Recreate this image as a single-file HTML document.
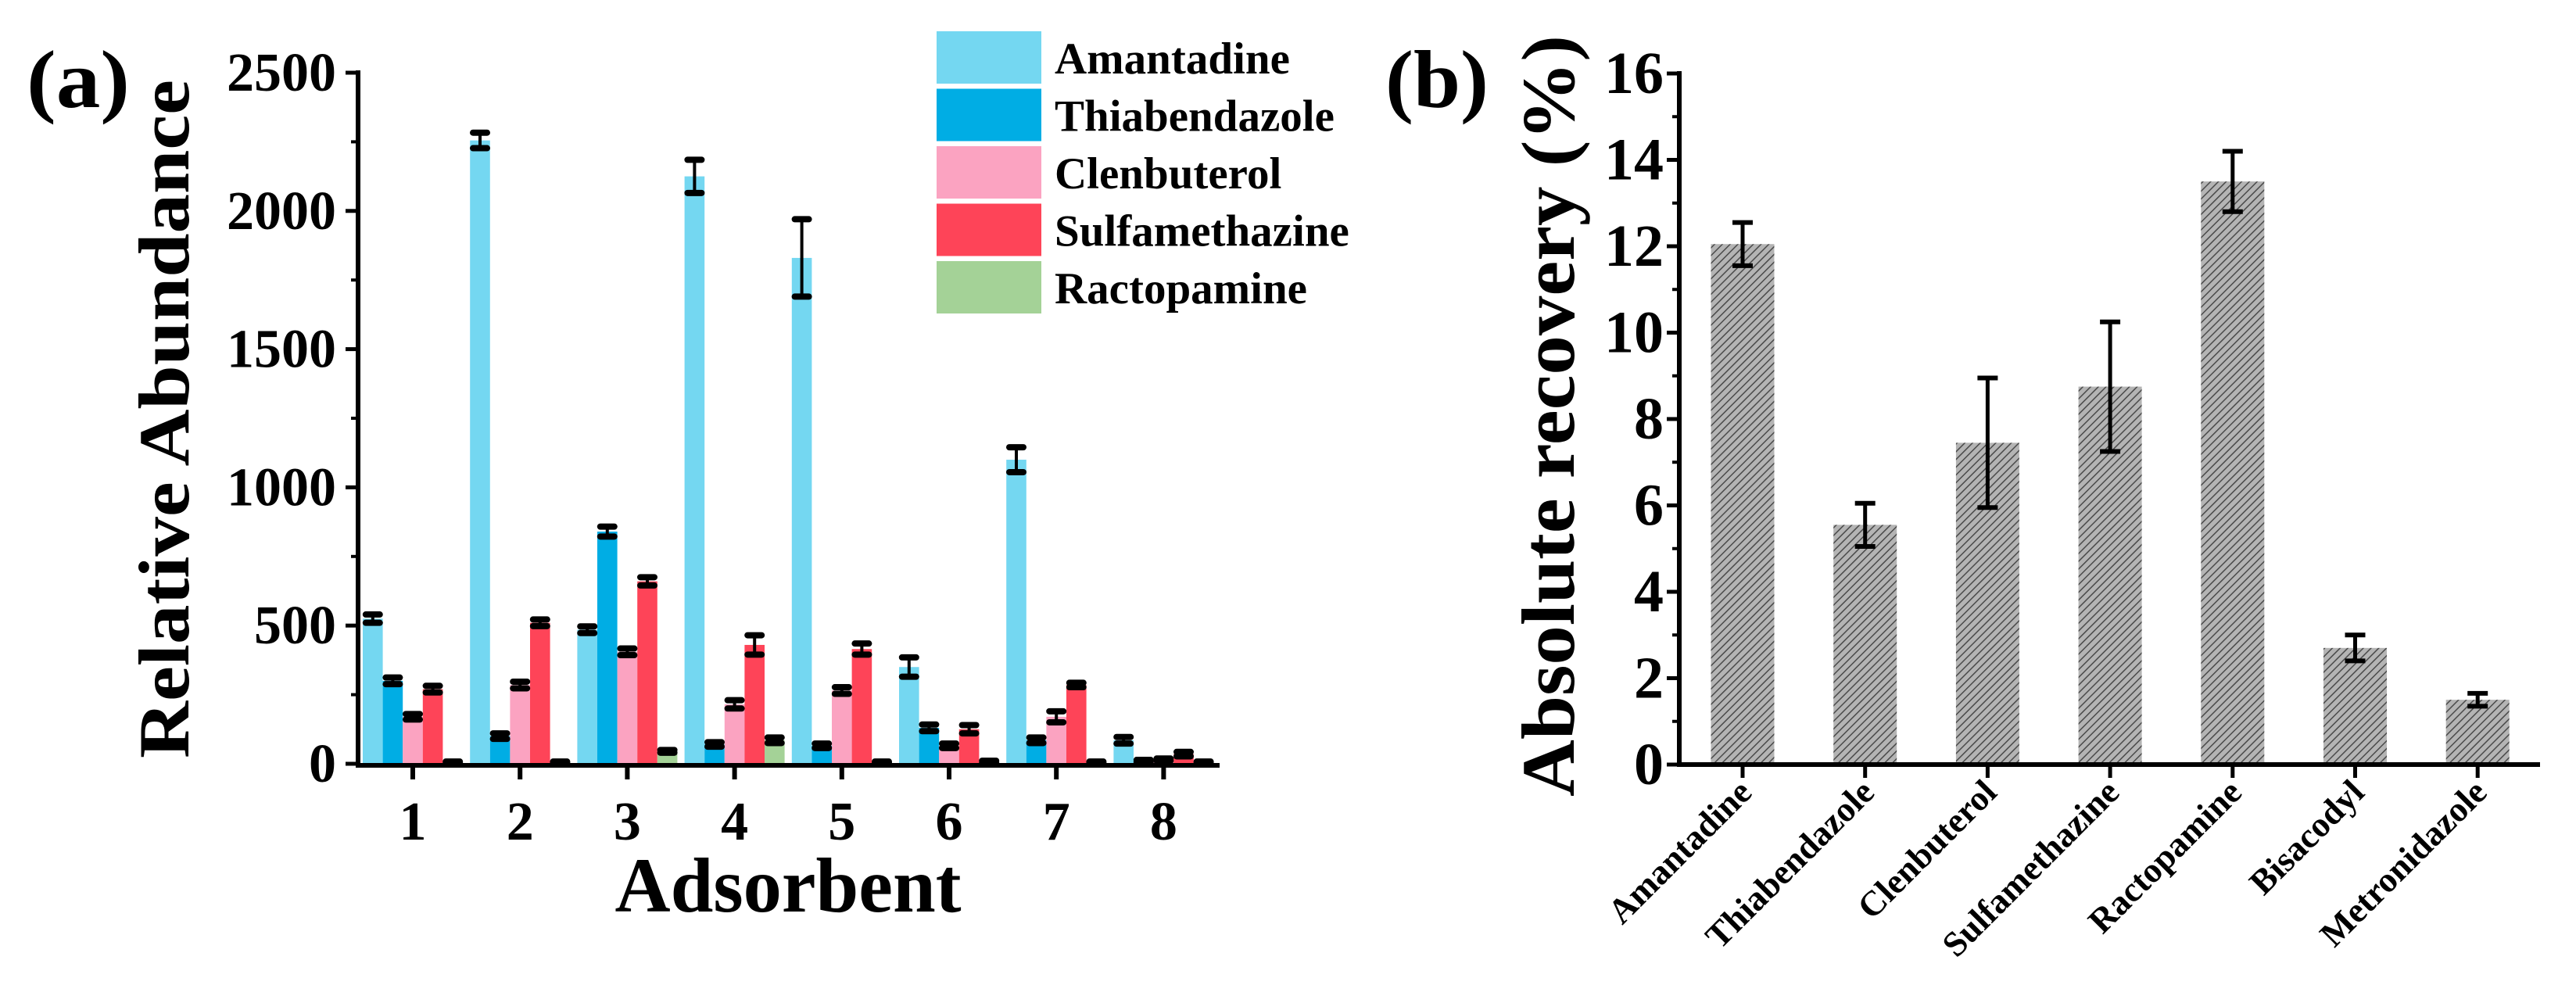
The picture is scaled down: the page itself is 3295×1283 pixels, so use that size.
<!DOCTYPE html>
<html><head><meta charset="utf-8"><style>
html,body{margin:0;padding:0;background:#fff;}
svg{display:block;}
svg text{font-family:"Liberation Serif",serif;font-weight:bold;}
</style></head><body>
<svg id="fig" width="3295" height="1283" viewBox="0 0 3295 1283" xmlns="http://www.w3.org/2000/svg" font-family="Liberation Serif, serif" font-weight="bold">
<defs>
<pattern id="hatch" patternUnits="userSpaceOnUse" width="7" height="7" patternTransform="rotate(45)">
<rect width="7" height="7" fill="#b4b4b4"/>
<line x1="0" y1="0" x2="0" y2="7" stroke="#4a4a4a" stroke-width="3"/>
</pattern>
</defs>
<g id="pa"></g>
<g id="pb"></g>
</svg>
<script>
// Panel (a) data
const aCategories = ['1','2','3','4','5','6','7','8'];
const aSeriesNames = ['Amantadine','Thiabendazole','Clenbuterol','Sulfamethazine','Ractopamine'];
const aColors = ['#74d7f1','#00ade4','#fba3c1','#fe4458','#a4d297'];
const aAmantadine = [525,2255,485,2125,1830,350,1100,85];
const aThiabendazole = [300,100,840,70,65,130,85,10];
const aClenbuterol = [170,285,405,215,265,65,170,15];
const aSulfamethazine = [270,510,660,430,415,125,285,35];
const aRactopamine = [5,5,45,85,5,8,5,5];
const aErrAmantadine = [15,28,12,60,140,35,45,12];
const aErrThiabendazole = [12,10,18,8,8,12,10,4];
const aErrClenbuterol = [10,12,12,15,12,8,20,4];
const aErrSulfamethazine = [12,12,15,35,20,15,8,8];
const aErrRactopamine = [3,3,5,10,3,3,3,3];
const aYTicks = [0,500,1000,1500,2000,2500];
// Panel (b) data
const bCategories = ['Amantadine','Thiabendazole','Clenbuterol','Sulfamethazine','Ractopamine','Bisacodyl','Metronidazole'];
const bValues = [12.05,5.55,7.45,8.75,13.5,2.7,1.5];
const bErrors = [0.5,0.5,1.5,1.5,0.7,0.3,0.15];
const bYTicks = [0,2,4,6,8,10,12,14,16];

const NS='http://www.w3.org/2000/svg';
function mk(parent,tag,attrs,text){const e=document.createElementNS(NS,tag);for(const k in attrs)e.setAttribute(k,attrs[k]);if(text!==undefined){e.textContent=text;e.setAttribute('font-family','Liberation Serif, serif');e.setAttribute('font-weight','bold');}parent.appendChild(e);return e;}

// ---------- Panel A ----------
const pa=document.getElementById('pa');
const aX0=458,aX1=1560,aY0=977,aYTop=93,aMax=2500;
const ay=v=>aY0-(v/aMax)*(aY0-aYTop);
const aGroupC=i=>528+i*137.2;
const aBarW=25.6;
const aSeries=[aAmantadine,aThiabendazole,aClenbuterol,aSulfamethazine,aRactopamine];
const aErrs=[aErrAmantadine,aErrThiabendazole,aErrClenbuterol,aErrSulfamethazine,aErrRactopamine];
aCategories.forEach((c,i)=>{
  aSeries.forEach((s,j)=>{
    const x=aGroupC(i)+(j-2.5)*aBarW;
    const r=mk(pa,'rect',{x:x,y:ay(s[i]),width:aBarW,height:aY0-ay(s[i]),fill:aColors[j]});
    
    
  });
});
aCategories.forEach((c,i)=>{
  aSeries.forEach((s,j)=>{
    const cx=aGroupC(i)+(j-2)*aBarW;
    const hi=ay(s[i]+aErrs[j][i]),lo=ay(Math.max(0,s[i]-aErrs[j][i]));
    const g=mk(pa,'g',{stroke:'#000','stroke-linecap':'round'});
    
    
    mk(g,'line',{x1:cx,x2:cx,y1:hi,y2:lo,'stroke-width':4});
    mk(g,'line',{x1:cx-9,x2:cx+9,y1:hi,y2:hi,'stroke-width':8});
    mk(g,'line',{x1:cx-9,x2:cx+9,y1:lo,y2:lo,'stroke-width':8});
  });
});
let e;
e=mk(pa,'line',{x1:aX0,x2:aX0,y1:aYTop-3,y2:aY0+3,stroke:'#000','stroke-width':6});

e=mk(pa,'line',{x1:aX0-3,x2:aX1,y1:aY0+2,y2:aY0+2,stroke:'#000','stroke-width':6});

aYTicks.forEach(t=>{
  mk(pa,'line',{x1:aX0-16,x2:aX0,y1:ay(t),y2:ay(t),stroke:'#000','stroke-width':5});
  const l=mk(pa,'text',{x:430,y:ay(t)+23,'text-anchor':'end','font-size':70},String(t));
  
  if(t<aMax) mk(pa,'line',{x1:aX0-9,x2:aX0,y1:ay(t+250),y2:ay(t+250),stroke:'#000','stroke-width':4});
});
aCategories.forEach((c,i)=>{
  mk(pa,'line',{x1:aGroupC(i),x2:aGroupC(i),y1:aY0,y2:aY0+20,stroke:'#000','stroke-width':6});
  const l=mk(pa,'text',{x:aGroupC(i),y:1074,'text-anchor':'middle','font-size':70},c);
  
});
e=mk(pa,'text',{x:1008,y:1166,'text-anchor':'middle','font-size':100,textLength:443,lengthAdjust:'spacingAndGlyphs'},'Adsorbent');

e=mk(pa,'text',{x:0,y:0,'text-anchor':'middle','font-size':92,textLength:868,lengthAdjust:'spacingAndGlyphs',transform:'translate(241,536) rotate(-90)'},'Relative Abundance');

e=mk(pa,'text',{x:34,y:137,'font-size':105,textLength:132,lengthAdjust:'spacingAndGlyphs'},'(a)');

const leg=mk(pa,'g',{});

aSeriesNames.forEach((n,j)=>{
  const y=40+j*73.5;
  const r=mk(leg,'rect',{x:1198,y:y,width:134,height:67,fill:aColors[j]});
  
  const t=mk(leg,'text',{x:1349,y:y+54,'font-size':57},n);
  
});

// ---------- Panel B ----------
const pb=document.getElementById('pb');
const bX0=2148,bX1=3249,bY0=978,bYTop=94,bMax=16;
const by=v=>bY0-(v/bMax)*(bY0-bYTop);
const bC=i=>2229+i*156.7;
const bW=81;
bCategories.forEach((c,i)=>{
  const r=mk(pb,'rect',{x:bC(i)-bW/2,y:by(bValues[i]),width:bW,height:bY0-by(bValues[i]),fill:'url(#hatch)'});
  
  const hi=by(bValues[i]+bErrors[i]),lo=by(bValues[i]-bErrors[i]);
  const g=mk(pb,'g',{stroke:'#000'});
  
  mk(g,'line',{x1:bC(i),x2:bC(i),y1:hi,y2:lo,'stroke-width':5});
  mk(g,'line',{x1:bC(i)-13,x2:bC(i)+13,y1:hi,y2:hi,'stroke-width':6});
  mk(g,'line',{x1:bC(i)-13,x2:bC(i)+13,y1:lo,y2:lo,'stroke-width':6});
});
e=mk(pb,'line',{x1:bX0,x2:bX0,y1:bYTop-3,y2:bY0+3,stroke:'#000','stroke-width':6});

e=mk(pb,'line',{x1:bX0-3,x2:bX1,y1:bY0,y2:bY0,stroke:'#000','stroke-width':6});

bYTicks.forEach(t=>{
  mk(pb,'line',{x1:bX0-16,x2:bX0,y1:by(t),y2:by(t),stroke:'#000','stroke-width':5});
  const l=mk(pb,'text',{x:2128,y:by(t)+25,'text-anchor':'end','font-size':76},String(t));
  
  if(t<bMax) mk(pb,'line',{x1:bX0-9,x2:bX0,y1:by(t+1),y2:by(t+1),stroke:'#000','stroke-width':4});
});
bCategories.forEach((c,i)=>{
  mk(pb,'line',{x1:bC(i),x2:bC(i),y1:bY0,y2:bY0+17,stroke:'#000','stroke-width':5});
  const l=mk(pb,'text',{x:0,y:0,'text-anchor':'end','font-size':45,transform:'translate('+(bC(i)+14)+',1016) rotate(-45)'},c);
  
});
e=mk(pb,'text',{x:0,y:0,'text-anchor':'middle','font-size':96,textLength:974,lengthAdjust:'spacingAndGlyphs',transform:'translate(2013,532) rotate(-90)'},'Absolute recovery (%)');

e=mk(pb,'text',{x:1772,y:137,'font-size':105,textLength:132,lengthAdjust:'spacingAndGlyphs'},'(b)');

</script>
</body></html>
